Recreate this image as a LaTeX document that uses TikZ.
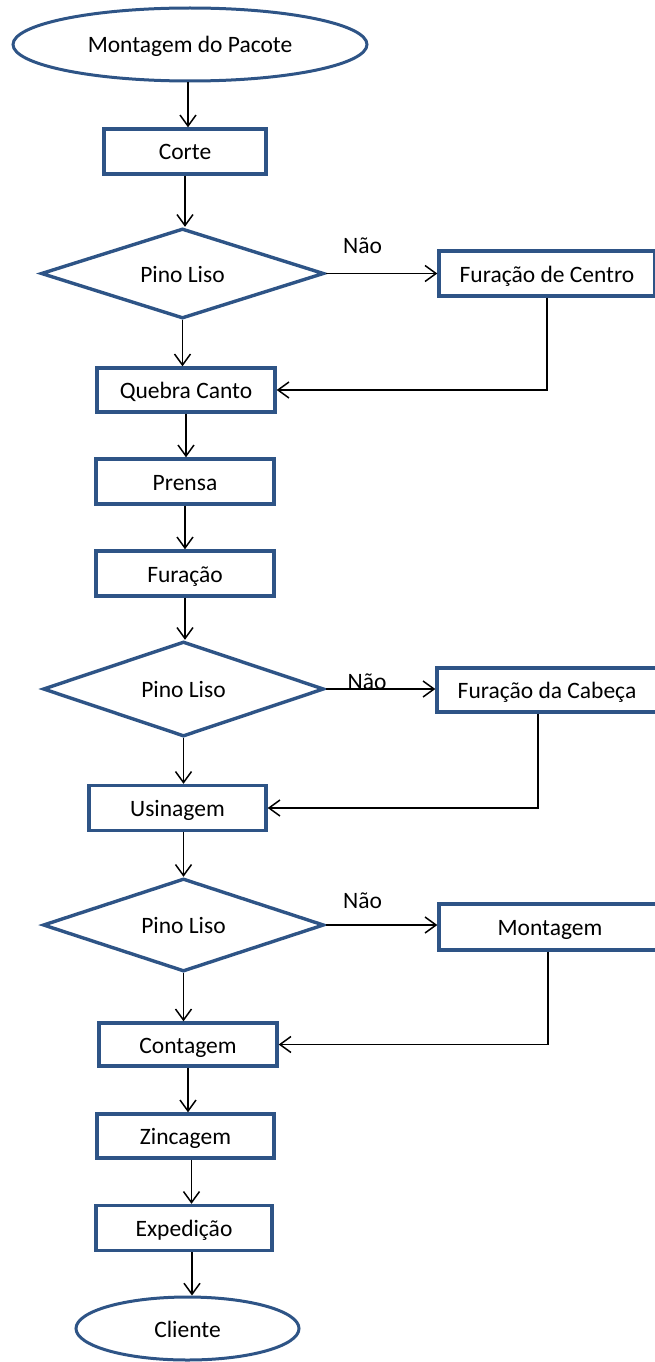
\documentclass[tikz,border=0pt]{standalone}
\usepackage{fontspec}
\setmainfont{Carlito}
\usetikzlibrary{shapes.geometric,arrows.meta}
\definecolor{edgeblue}{RGB}{46,84,134}
\begin{document}
\begin{tikzpicture}[x=1pt,y=-1pt,
  font=\fontsize{23.5}{28}\selectfont,
  base/.style={draw=edgeblue, fill=white, inner sep=0pt, text height=17pt, text depth=0pt},
  proc/.style={base, rectangle, line width=3.4pt},
  term/.style={base, ellipse, line width=3pt},
  decision/.style={base, diamond, aspect=3, line width=3.4pt},
  flow/.style={line width=1.5pt, -{Straight Barb[length=11pt,width=16pt,line width=1.5pt]}},
  lbl/.style={inner sep=0pt, anchor=base}]
\useasboundingbox (0,0) rectangle (655,1362);

% main column
\node[term, minimum width=354pt, minimum height=73pt] (start) at (190,44.5) {Montagem do Pacote};
\node[proc, minimum width=162pt, minimum height=45pt] (corte) at (185,151.5) {Corte};
\node[decision, minimum width=283pt, minimum height=90pt] (d1) at (182.5,273.5) {Pino Liso};
\node[proc, minimum width=178pt, minimum height=44pt] (quebra) at (186,390) {Quebra Canto};
\node[proc, minimum width=178pt, minimum height=45pt] (prensa) at (185,481.5) {Prensa};
\node[proc, minimum width=178pt, minimum height=45pt] (furacao) at (185,573.5) {Furação};
\node[decision, minimum width=281pt, minimum height=95pt] (d2) at (183.5,689) {Pino Liso};
\node[proc, minimum width=177pt, minimum height=45pt] (usin) at (177.5,808) {Usinagem};
\node[decision, minimum width=281pt, minimum height=93pt] (d3) at (183.5,925) {Pino Liso};
\node[proc, minimum width=178pt, minimum height=43pt] (cont) at (188,1044.5) {Contagem};
\node[proc, minimum width=177pt, minimum height=44pt] (zinc) at (185.5,1136) {Zincagem};
\node[proc, minimum width=176pt, minimum height=45pt] (exped) at (184,1228) {Expedição};
\node[term, minimum width=223pt, minimum height=63pt] (cliente) at (187.5,1328.5) {Cliente};

% side branches
\node[proc, minimum width=216pt, minimum height=45pt] (fcentro) at (547,273.5) {Furação de Centro};
\node[proc, minimum width=220pt, minimum height=44pt] (fcabeca) at (547,690) {Furação da Cabeça};
\node[proc, minimum width=222pt, minimum height=46pt] (montagem) at (550,927) {Montagem};

% labels
\node[lbl] (n1) at (362.5,253) {Não};
\node[lbl] (n2) at (367,689) {Não};
\node[lbl] (n3) at (362.5,908) {Não};

% vertical flow
\draw[flow] (start.south -| corte.north) ++(3,0) -- ([xshift=3pt]corte.north);
\draw[flow] (corte.south) -- (corte.south |- d1.north);
\draw[flow] (d1.south) -- (d1.south |- quebra.north);
\draw[flow] (quebra.south) -- (quebra.south |- prensa.north);
\draw[flow] (prensa.south) -- (prensa.south |- furacao.north);
\draw[flow] (furacao.south) -- (furacao.south |- d2.north);
\draw[flow] (d2.south) -- (d2.south |- usin.north);
\draw[flow] (usin.south -| d3.north) -- (d3.north);
\draw[flow] (d3.south) -- (d3.south |- cont.north);
\draw[flow] (cont.south) -- (cont.south |- zinc.north);
\draw[flow] ([xshift=6pt]zinc.south) -- ([xshift=6pt]zinc.south |- exped.north);
\draw[flow] ([xshift=8pt]exped.south) -- ([xshift=8pt]exped.south |- cliente.north);

% branches out and back
\draw[flow] (d1.east) -- (fcentro.west);
\draw[flow] (d2.east) -- (d2.east -| fcabeca.west);
\draw[flow] (d3.east) -- (d3.east -| montagem.west);
\draw[flow] (fcentro.south) |- (quebra.east);
\draw[flow] ([xshift=-9pt]fcabeca.south) |- (usin.east);
\draw[flow] ([xshift=-2pt]montagem.south) |- (cont.east);
\end{tikzpicture}
\end{document}
